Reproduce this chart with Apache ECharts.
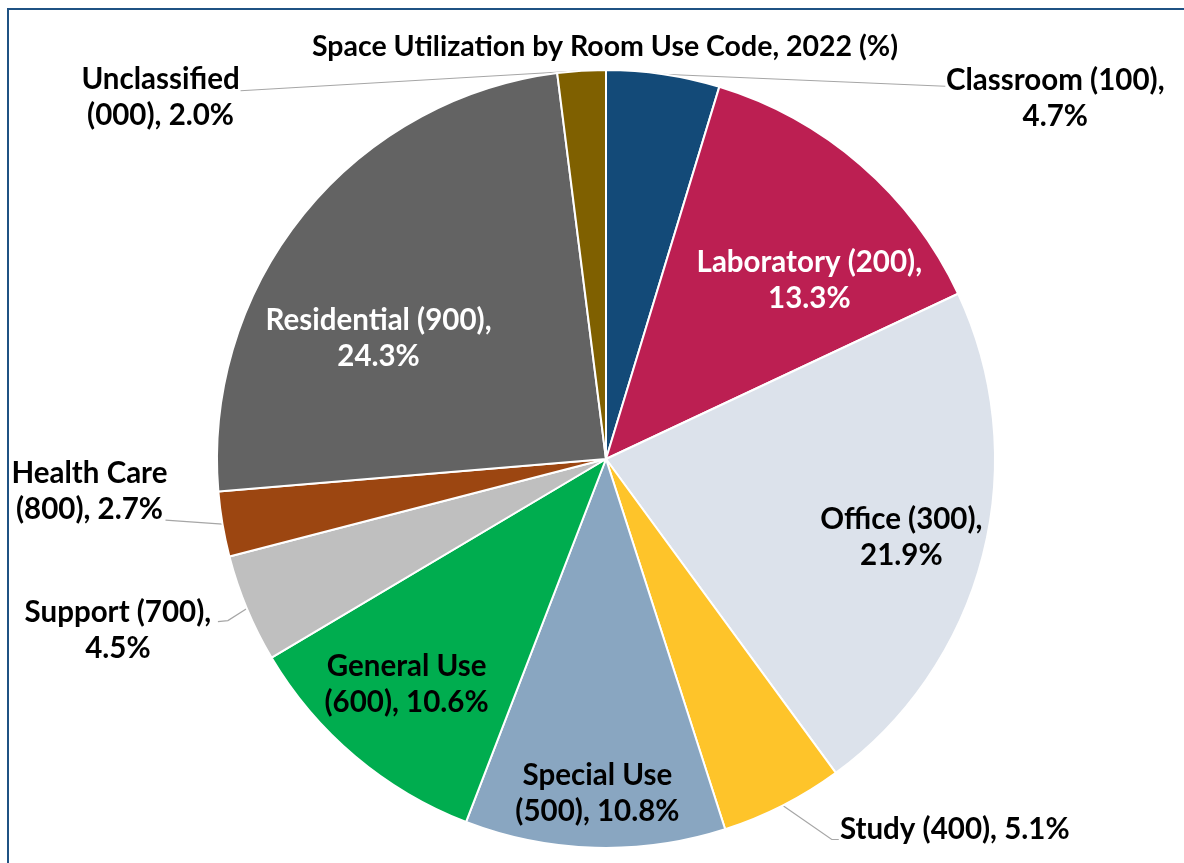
<!DOCTYPE html>
<html>
<head>
<meta charset="utf-8">
<title>Space Utilization by Room Use Code, 2022</title>
<script src="https://cdn.jsdelivr.net/npm/echarts@6/dist/echarts.min.js"></script>
<style>
  html, body { margin: 0; padding: 0; background: #fff; }
  #chart { width: 1184px; height: 863px; }
</style>
</head>
<body>
<div id="chart"></div>
<script>
// data
const rooms = ['Classroom', 'Laboratory', 'Office', 'Study', 'Special Use',
  'General Use', 'Support', 'Health Care', 'Residential', 'Unclassified']
const codes = ['100', '200', '300', '400', '500', '600', '700', '800', '900', '000']
const shares = [4.7, 13.3, 21.9, 5.1, 10.8, 10.6, 4.5, 2.7, 24.3, 2.0]

const colors = ['#134a78', '#bc1f52', '#dce2eb', '#fec42a', '#89a6c1',
  '#00ad4f', '#bfbfbf', '#9c4611', '#636363', '#7f6000']

// how each label is written: 'code' breaks before the code, 'value' before the value
const wrap = ['value', 'value', 'value', 'none', 'code', 'code', 'value', 'code', 'value', 'code']
const whiteText = ['Laboratory', 'Residential']
const outside = ['Classroom', 'Study', 'Support', 'Health Care', 'Unclassified']

// inside labels: shift from the default mid-radius spot
const insideShift = {
  Laboratory: [74, -29],
  Office: [104, 30],
  'Special Use': [-3, 137],
  'General Use': [-72, 75],
  Residential: [-74, 4]
}
// outside labels: label centre and leader line, relative to the slice edge
const outsideShift = {
  Classroom: { label: [392, 24], line: [[282, 12], [282, 12]] },
  Unclassified: { label: [-421, 27], line: [[-341, 20], [-341, 20]] },
  'Health Care': { label: [-133, -33], line: [[-57, -4], [-57, -4]] },
  Support: { label: [-129, 22], line: [[-19, 12], [-29, 13]] },
  Study: { label: [172, 24], line: [[49, 34], [56, 34]] }
}

function labelText (i) {
  const name = rooms[i]
  const code = '(' + codes[i] + ')'
  const val = shares[i].toFixed(1) + '%'
  if (wrap[i] === 'code') return name + '\n' + code + ', ' + val
  if (wrap[i] === 'none') return name + ' ' + code + ', ' + val
  return name + ' ' + code + ',\n' + val
}

const fontFamily = 'Lato, "Open Sans", sans-serif'

const seriesData = rooms.map((name, i) => {
  const isOut = outside.indexOf(name) >= 0
  return {
    name: name,
    value: shares[i],
    itemStyle: { color: colors[i] },
    label: {
      position: isOut ? 'outside' : 'inside',
      color: whiteText.indexOf(name) >= 0 ? '#ffffff' : '#000000'
    },
    labelLine: { show: isOut }
  }
})

let myChart = echarts.init(document.getElementById('chart'))
myChart.setOption({
  backgroundColor: '#ffffff',
  animation: false,
  title: {
    text: 'Space Utilization by Room Use Code, 2022 (%)',
    left: 600,
    textAlign: 'center',
    top: 27,
    textStyle: {
      fontFamily: fontFamily,
      fontWeight: 'bold',
      fontSize: 28.5,
      color: '#000000'
    }
  },
  graphic: [
    {
      type: 'rect',
      shape: { x: 8, y: 9, width: 1400, height: 1200 },
      style: { fill: 'none', stroke: '#1f5283', lineWidth: 2 },
      silent: true
    }
  ],
  series: [
    {
      type: 'pie',
      center: [606, 459],
      radius: 389,
      startAngle: 90,
      clockwise: true,
      avoidLabelOverlap: false,
      itemStyle: { borderColor: '#ffffff', borderWidth: 2 },
      label: {
        show: true,
        fontFamily: fontFamily,
        fontWeight: 'bold',
        fontSize: 29.5,
        lineHeight: 36,
        align: 'center',
        formatter: function (p) { return labelText(p.dataIndex) }
      },
      labelLine: {
        lineStyle: { color: '#a6a6a6', width: 1.2 }
      },
      labelLayout: function (params) {
        const name = rooms[params.dataIndex]
        if (insideShift[name]) {
          return { dx: insideShift[name][0], dy: insideShift[name][1] }
        }
        const o = outsideShift[name]
        if (!o || !params.labelLinePoints) return {}
        const edge = params.labelLinePoints[0]
        return {
          x: edge[0] + o.label[0],
          y: edge[1] + o.label[1],
          align: 'center',
          verticalAlign: 'middle',
          labelLinePoints: [
            [edge[0], edge[1]],
            [edge[0] + o.line[0][0], edge[1] + o.line[0][1]],
            [edge[0] + o.line[1][0], edge[1] + o.line[1][1]]
          ]
        }
      },
      data: seriesData
    }
  ]
})
</script>
</body>
</html>
